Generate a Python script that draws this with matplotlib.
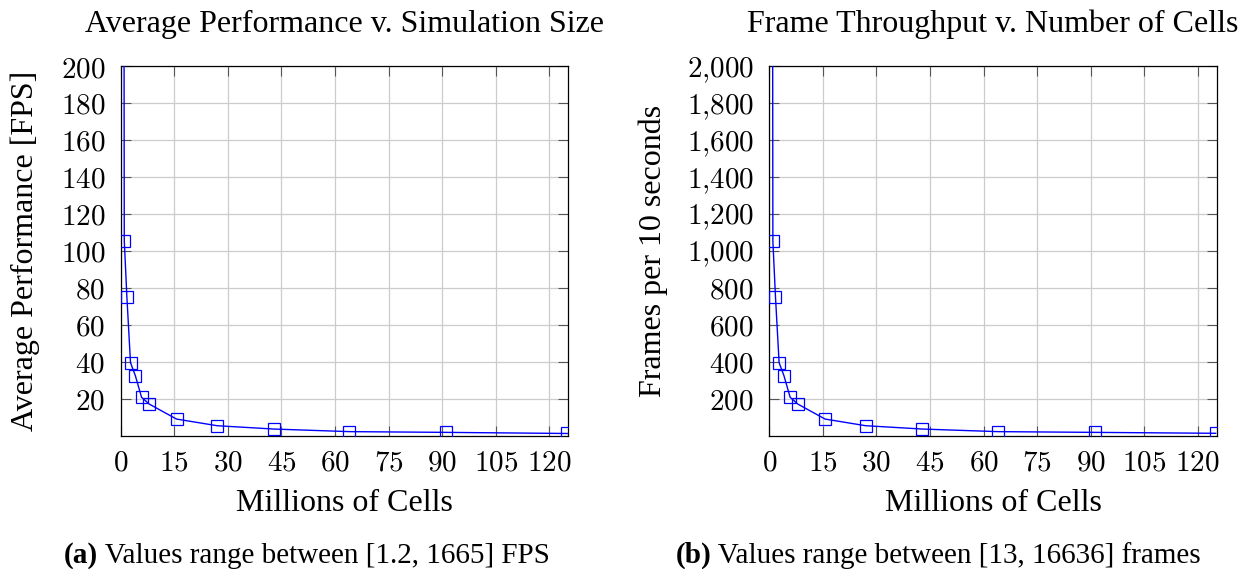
import matplotlib
matplotlib.use("Agg")
import matplotlib.pyplot as plt
from matplotlib.ticker import FixedLocator, FixedFormatter

# ---- data ----
cells_millions = [0.125, 1.0, 1.728, 2.744, 4.096, 5.832, 8.0, 15.625, 27.0, 42.875, 64.0, 91.125, 125.0]
avg_fps = [1665, 105.5, 75.2, 39.5, 32.5, 20.8, 17.1, 9.0, 5.4, 3.6, 2.2, 1.8, 1.2]
frames_10s = [16636, 1053, 752, 395, 325, 208, 171, 90, 54, 36, 22, 18, 13]

x_ticks = [0, 15, 30, 45, 60, 75, 90, 105, 120]
y_ticks_a = [20, 40, 60, 80, 100, 120, 140, 160, 180, 200]
y_ticks_b = [200, 400, 600, 800, 1000, 1200, 1400, 1600, 1800, 2000]

titles = ["Average Performance v. Simulation Size", "Frame Throughput v. Number of Cells"]
ylabels = ["Average Performance [FPS]", "Frames per 10 seconds"]
xlabel = "Millions of Cells"
cap_tags = ["(a)", "(b)"]
cap_texts = [" Values range between [1.2, 1665] FPS", " Values range between [13, 16636] frames"]

plt.rcParams["mathtext.fontset"] = "cm"
SERIF = "Liberation Serif"

W, H = 1250, 569
fig = plt.figure(figsize=(W / 100, H / 100), dpi=100)

def px_rect(l, r, t, b):
    return [l / W, 1 - b / H, (r - l) / W, (b - t) / H]

axes_px = [(120.7, 568.3, 66, 435.7), (769.3, 1216.7, 66, 435.7)]
ylab_x = [25, 653]
cap_cx = [307, 938]

def fmt(v):
    s = f"{v:,}".replace(",", "{,}")
    return f"${s}$"

for i, (ys, yt, ymax) in enumerate([(avg_fps, y_ticks_a, 200), (frames_10s, y_ticks_b, 2000)]):
    l, r, t, b = axes_px[i]
    ax = fig.add_axes(px_rect(l, r, t, b))
    ax.plot(cells_millions, ys, color="blue", lw=1.0, marker="s", ms=8,
            mfc="none", mec="blue", mew=0.9, clip_on=True, zorder=3)
    ax.set_xlim(0, 125.3)
    ax.set_ylim(0, ymax)
    ax.xaxis.set_major_locator(FixedLocator(x_ticks))
    ax.xaxis.set_major_formatter(FixedFormatter([fmt(v) for v in x_ticks]))
    ax.yaxis.set_major_locator(FixedLocator(yt))
    ax.yaxis.set_major_formatter(FixedFormatter([fmt(v) for v in yt]))
    ax.grid(True, color="#cccccc", lw=0.9, zorder=0)
    ax.set_axisbelow(True)
    ax.tick_params(direction="in", length=7.5, width=0.8, color="#555555",
                   top=True, right=True, labelsize=21)
    ax.tick_params(axis="y", pad=11)
    ax.tick_params(axis="x", pad=9)
    for sp in ax.spines.values():
        sp.set_color("black")
        sp.set_linewidth(0.9)
    cx = (l + r) / 2
    fig.text(cx / W, 1 - 32 / H, titles[i], ha="center", va="baseline",
             fontsize=23, family=SERIF)
    fig.text(cx / W, 1 - 511 / H, xlabel, ha="center", va="baseline",
             fontsize=23, family=SERIF)
    fig.text(ylab_x[i] / W, 1 - ((t + b) / 2) / H, ylabels[i], ha="center", va="center",
             rotation=90, fontsize=23, family=SERIF)

fig.canvas.draw()
renderer = fig.canvas.get_renderer()
for i in range(2):
    tag = fig.text(0, 1 - 563 / H, cap_tags[i], ha="left", va="baseline",
                   fontsize=21, family=SERIF, fontweight="bold")
    rest = fig.text(0, 1 - 563 / H, cap_texts[i], ha="left", va="baseline",
                    fontsize=21, family=SERIF)
    w1 = tag.get_window_extent(renderer).width
    w2 = rest.get_window_extent(renderer).width
    x0 = cap_cx[i] - (w1 + w2) / 2
    tag.set_x(x0 / W)
    rest.set_x((x0 + w1) / W)

fig.savefig("out.png", dpi=100)
